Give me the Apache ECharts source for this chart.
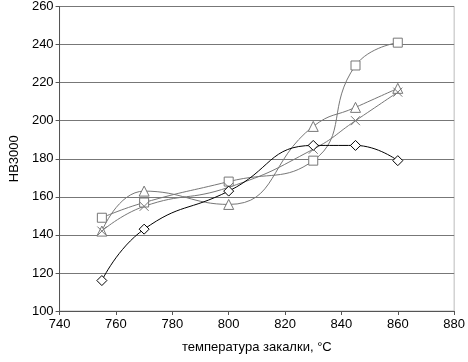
<!DOCTYPE html>
<html>
<head>
<meta charset="utf-8">
<script src="https://cdn.jsdelivr.net/npm/echarts@6/dist/echarts.min.js"></script>
<style>
  html, body { margin: 0; padding: 0; background: #fff; }
  #chart { width: 468px; height: 362px; }
</style>
</head>
<body>
<div id="chart"></div>
<script>
// температура закалки, °C
const temps = [755, 770, 800, 830, 845, 860];
const diamond = [116, 143, 163, 187, 187, 179];
const square = [149, 157, 168, 179, 229, 241];
const triangle = [142, 163, 156, 197, 207, 217];
const cross = [142, 155, 165, 185, 200, 215];

const pairs = (ys) => temps.map((t, i) => [t, ys[i]]);

const axisText = { color: '#000', fontFamily: 'Liberation Sans', fontSize: 13 };

const mkSeries = (name, data, symbol, color, size) => ({
  name: name,
  type: 'line',
  data: pairs(data),
  smooth: 0.5,
  symbol: symbol,
  symbolSize: size,
  lineStyle: { color: color, width: 1 },
  itemStyle: { color: '#fff', borderColor: color, borderWidth: 1 },
  z: 3
});

const crossPath = 'path://M0,0 L10,10 M10,0 L0,10';

const chart = echarts.init(document.getElementById('chart'));
chart.setOption({
  animation: false,
  backgroundColor: '#fff',
  grid: {
    left: 46, right: 10, top: 5, bottom: 51,
    show: true, borderColor: '#bbb', borderWidth: 1
  },
  xAxis: {
    type: 'value',
    min: 740, max: 880, interval: 20,
    name: 'температура закалки, °C',
    nameLocation: 'middle',
    nameGap: 30,
    nameTextStyle: axisText,
    axisLine: { lineStyle: { color: '#555' } },
    axisTick: { show: true, length: 4, lineStyle: { color: '#555' } },
    axisLabel: Object.assign({ margin: 7 }, axisText),
    splitLine: { show: false }
  },
  yAxis: {
    type: 'value',
    min: 100, max: 260, interval: 20,
    name: 'HB3000',
    nameLocation: 'middle',
    nameGap: 31,
    nameTextStyle: axisText,
    axisLine: { show: true, lineStyle: { color: '#555' } },
    axisTick: { show: true, length: 4, lineStyle: { color: '#555' } },
    axisLabel: Object.assign({ margin: 6 }, axisText),
    splitLine: { lineStyle: { color: '#777', width: 1 } }
  },
  series: [
    mkSeries('square', square, 'rect', '#777', 9),
    mkSeries('triangle', triangle, 'triangle', '#777', 10),
    Object.assign(mkSeries('cross', cross, crossPath, '#777', 9), {
      itemStyle: { color: 'none', borderColor: '#777', borderWidth: 1 }
    }),
    mkSeries('diamond', diamond, 'diamond', '#000', 10)
  ]
});
</script>
</body>
</html>
